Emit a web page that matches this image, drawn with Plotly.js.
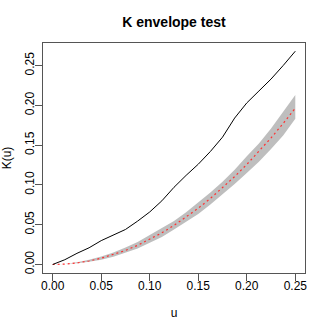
<!DOCTYPE html>
<html>
<head>
<meta charset="utf-8">
<script src="https://cdn.plot.ly/plotly-3.0.1.min.js"></script>
<style>html,body{margin:0;padding:0;background:#fff;}#chart{width:327px;height:327px;}</style>
</head>
<body>
<div id="chart"></div>
<script>
const u = [0, 0.0125, 0.025, 0.0375, 0.05, 0.0625, 0.075, 0.0875, 0.1, 0.1125, 0.125, 0.1375, 0.15, 0.1625, 0.175, 0.1875, 0.2, 0.2125, 0.225, 0.2375, 0.25];
const kObs = [0, 0.006, 0.014, 0.021, 0.030, 0.037, 0.044, 0.0545, 0.066, 0.080, 0.097, 0.112, 0.126, 0.142, 0.160, 0.184, 0.203, 0.218, 0.233, 0.250, 0.268];
const kTheo = [0, 0.00049, 0.00196, 0.00442, 0.00785, 0.01227, 0.01767, 0.02405, 0.03142, 0.03976, 0.04909, 0.0594, 0.07069, 0.08296, 0.09621, 0.11045, 0.12566, 0.14186, 0.15904, 0.1772, 0.19635];
const kHi = [0, 0.0007, 0.0027, 0.0058, 0.0100, 0.0150, 0.0212, 0.0283, 0.0370, 0.0455, 0.0545, 0.0655, 0.0776, 0.0905, 0.1040, 0.1190, 0.1360, 0.1520, 0.1710, 0.1920, 0.2130];
const kLo = [0, 0.0003, 0.0014, 0.0033, 0.0060, 0.0098, 0.0145, 0.0200, 0.0272, 0.0345, 0.0440, 0.0535, 0.0635, 0.0755, 0.0880, 0.1010, 0.1150, 0.1290, 0.1450, 0.1620, 0.1830];
const tickVals = [0, 0.05, 0.1, 0.15, 0.2, 0.25];
const tickText = ["0.00", "0.05", "0.10", "0.15", "0.20", "0.25"];

const traces = [
  {x: u, y: kLo, mode: 'lines', line: {width: 0, color: '#bebebe'}, hoverinfo: 'skip', showlegend: false},
  {x: u, y: kHi, mode: 'lines', fill: 'tonexty', fillcolor: '#bebebe', line: {width: 0, color: '#bebebe'}, showlegend: false},
  {x: u, y: kTheo, mode: 'lines', line: {color: '#ff3030', width: 1.2, dash: '2px,3px'}, showlegend: false},
  {x: u, y: kObs, mode: 'lines', line: {color: '#000000', width: 1}, showlegend: false}
];

const font = {family: 'Liberation Sans, Arial, sans-serif', size: 12, color: '#000'};
const layout = {
  width: 327, height: 327,
  margin: {l: 43, r: 22, t: 43, b: 54, pad: 0},
  paper_bgcolor: '#fff', plot_bgcolor: '#fff',
  font: font,
  showlegend: false,
  title: {text: '<b>K envelope test</b>', x: 0.532, xanchor: 'center', y: 0.931, yanchor: 'middle', yref: 'container', font: {family: font.family, size: 14, color: '#000'}},
  xaxis: {
    range: [-0.01, 0.26], tickvals: tickVals, ticktext: tickText,
    showgrid: false, zeroline: false, showline: true, mirror: true, linecolor: '#555', linewidth: 1,
    ticks: 'outside', ticklen: 7, tickcolor: '#555', tickfont: font, ticklabelstandoff: -5,
    title: {text: 'u', font: font, standoff: 16}
  },
  yaxis: {
    range: [-0.0107, 0.2783], tickvals: tickVals, ticktext: tickText, tickangle: -90,
    showgrid: false, zeroline: false, showline: true, mirror: true, linecolor: '#555', linewidth: 1,
    ticks: 'outside', ticklen: 7, tickcolor: '#555', tickfont: font, ticklabelstandoff: -4,
    title: {text: 'K(u)', font: font, standoff: 12}
  }
};
Plotly.newPlot('chart', traces, layout, {displayModeBar: false, staticPlot: true});
</script>
</body>
</html>
